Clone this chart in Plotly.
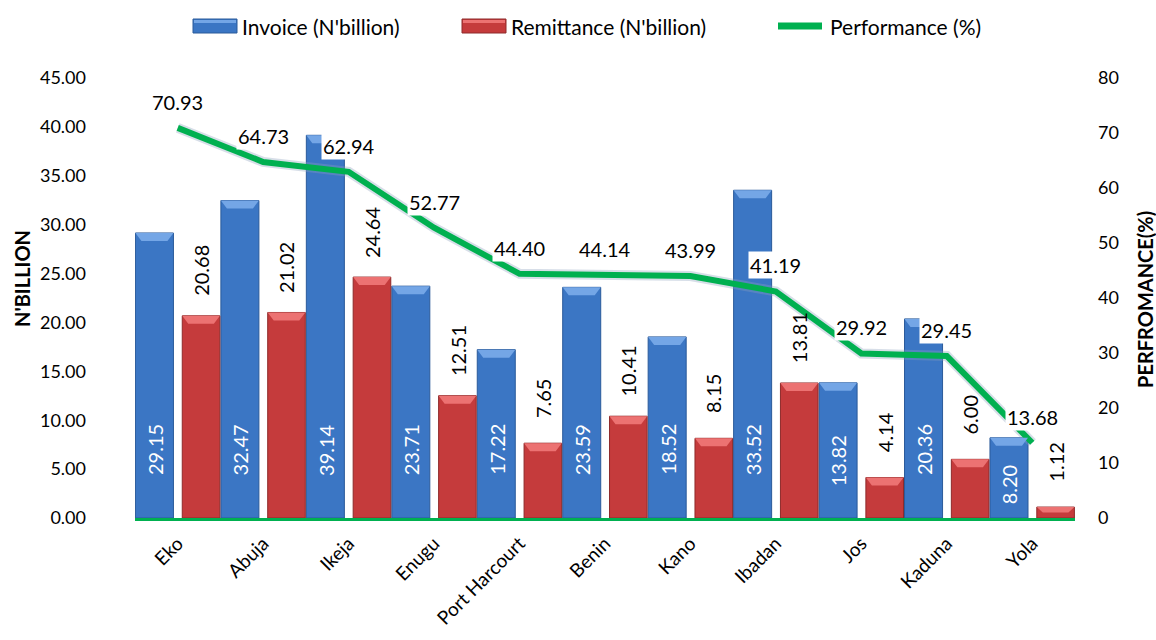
import plotly.graph_objects as go

# Revenue offices and their figures
offices = ["Eko", "Abuja", "Ikeja", "Enugu", "Port Harcourt", "Benin",
           "Kano", "Ibadan", "Jos", "Kaduna", "Yola"]
invoice = [29.15, 32.47, 39.14, 23.71, 17.22, 23.59, 18.52, 33.52, 13.82, 20.36, 8.20]
remittance = [20.68, 21.02, 24.64, 12.51, 7.65, 10.41, 8.15, 13.81, 4.14, 6.00, 1.12]
performance = [70.93, 64.73, 62.94, 52.77, 44.40, 44.14, 43.99, 41.19, 29.92, 29.45, 13.68]

series_names = ["Invoice (N'billion)", "Remittance (N'billion)", "Performance (%)"]

FONT = "Lato"
BLUE, BLUE_EDGE, BLUE_CAP = "#3B76C4", "#2A5A9A", "#74A6E6"
RED, RED_EDGE, RED_CAP = "#C53B3C", "#8E2A2A", "#EC7272"
GREEN = "#00B050"

W, H = 1156, 640
ML, MR, MT, MB = 135, 81, 78, 122
PW, PH = W - ML - MR, H - MT - MB
Y_MAX, Y2_MAX = 45, 80
PX_PER_UNIT = PH / Y_MAX


def px_x(v):
    return (v - ML) / PW


def px_y(v):
    return 1 - (v - MT) / PH


INV_OFF, INV_W = -0.495, 0.445
REM_OFF, REM_W = 0.053, 0.44

fig = go.Figure()

fig.add_trace(go.Bar(
    x=offices, y=invoice, name=series_names[0],
    offset=INV_OFF, width=INV_W, showlegend=False,
    marker=dict(color=BLUE, line=dict(color=BLUE_EDGE, width=1)),
))
fig.add_trace(go.Bar(
    x=offices, y=remittance, name=series_names[1],
    offset=REM_OFF, width=REM_W, showlegend=False,
    marker=dict(color=RED, line=dict(color=RED_EDGE, width=1)),
))

# soft halo under the performance line, then the line itself
fig.add_trace(go.Scatter(
    x=offices, y=performance, yaxis="y2", mode="lines", showlegend=False,
    hoverinfo="skip", line=dict(color="rgba(140,160,190,0.35)", width=10),
))
fig.add_trace(go.Scatter(
    x=offices, y=performance, name=series_names[2], yaxis="y2",
    mode="lines", showlegend=False, line=dict(color=GREEN, width=6),
))

shapes = []
annotations = []

# bevelled caps on top of each bar
cap_h = 8 / PX_PER_UNIT
inset = 6 / (PW / len(offices))
for i, (inv, rem) in enumerate(zip(invoice, remittance)):
    for val, off, w, cap in ((inv, INV_OFF, INV_W, BLUE_CAP), (rem, REM_OFF, REM_W, RED_CAP)):
        x0, x1 = i + off, i + off + w
        h = min(cap_h, val * 0.5)
        path = (f"M {x0},{val} L {x1},{val} L {x1 - inset},{val - h} "
                f"L {x0 + inset},{val - h} Z")
        shapes.append(dict(type="path", path=path, xref="x", yref="y",
                           fillcolor=cap, line=dict(width=0), layer="above"))

# invoice values written inside the blue bars
for name, v in zip(offices, invoice):
    centre = min(7.0, 0.42 * v)
    annotations.append(dict(
        x=name, y=centre, xref="x", yref="y", text=f"{v:.2f}",
        xshift=(INV_OFF + INV_W / 2) * PW / len(offices),
        textangle=-90, showarrow=False, xanchor="center", yanchor="middle",
        font=dict(family=FONT, size=20, color="white"),
    ))

# remittance values above the red bars
for name, v in zip(offices, remittance):
    annotations.append(dict(
        x=name, y=v, xref="x", yref="y", text=f"{v:.2f}",
        xshift=(REM_OFF + REM_W / 2) * PW / len(offices), yshift=45,
        textangle=-90, showarrow=False, xanchor="center", yanchor="middle",
        font=dict(family=FONT, size=20, color="black"),
    ))

# performance values on white boxes above the line
for name, p in zip(offices, performance):
    annotations.append(dict(
        x=name, y=p, xref="x", yref="y2", text=f"{p:.2f}",
        showarrow=False, yshift=26, bgcolor="white", borderpad=1,
        font=dict(family=FONT, size=20, color="black"),
    ))

# axis titles
annotations.append(dict(
    x=px_x(22), y=px_y(279), xref="paper", yref="paper", text="<b>N'BILLION</b>",
    textangle=-90, showarrow=False, xanchor="center", yanchor="middle",
    font=dict(family=FONT, size=20, color="black"),
))
annotations.append(dict(
    x=px_x(1145), y=px_y(300), xref="paper", yref="paper",
    text="<b>PERFROMANCE(%)</b>",
    textangle=-90, showarrow=False, xanchor="center", yanchor="middle",
    font=dict(family=FONT, size=20, color="black"),
))

# legend row
LEG_Y = 26
legend_items = [
    ("bar", 193, BLUE, BLUE_EDGE, BLUE_CAP),
    ("bar", 462, RED, RED_EDGE, RED_CAP),
    ("line", 775, GREEN, GREEN, GREEN),
]
for (kind, x0, col, edge, cap), label in zip(legend_items, series_names):
    if kind == "bar":
        shapes.append(dict(
            type="rect", xref="paper", yref="paper",
            x0=px_x(x0), x1=px_x(x0 + 44), y0=px_y(LEG_Y + 7), y1=px_y(LEG_Y - 7),
            fillcolor=col, line=dict(color=edge, width=1),
        ))
        shapes.append(dict(
            type="rect", xref="paper", yref="paper",
            x0=px_x(x0 + 1), x1=px_x(x0 + 43), y0=px_y(LEG_Y - 3), y1=px_y(LEG_Y - 6),
            fillcolor=cap, line=dict(width=0),
        ))
        tx = x0 + 47
    else:
        shapes.append(dict(
            type="line", xref="paper", yref="paper",
            x0=px_x(x0 + 3), x1=px_x(x0 + 47), y0=px_y(LEG_Y), y1=px_y(LEG_Y),
            line=dict(color=col, width=7),
        ))
        tx = x0 + 53
    annotations.append(dict(
        x=px_x(tx), y=px_y(LEG_Y), xref="paper", yref="paper", text=label,
        showarrow=False, xanchor="left", yanchor="middle",
        font=dict(family=FONT, size=21, color="black"),
    ))

fig.update_layout(
    width=W, height=H,
    margin=dict(l=ML, r=MR, t=MT, b=MB, autoexpand=False),
    paper_bgcolor="white", plot_bgcolor="white",
    font=dict(family=FONT, size=18, color="black"),
    barmode="group", showlegend=False,
    shapes=shapes, annotations=annotations,
    xaxis=dict(
        showgrid=False, showline=True, linecolor=GREEN, linewidth=3,
        ticks="", tickangle=-45, ticklabelstandoff=4, automargin=False,
        tickfont=dict(family=FONT, size=19),
    ),
    yaxis=dict(
        range=[0, Y_MAX], dtick=5, tickformat=".2f", showgrid=False,
        zeroline=False, showline=False, ticks="", automargin=False,
        ticklabelstandoff=48, tickfont=dict(family=FONT, size=18),
    ),
    yaxis2=dict(
        range=[0, Y2_MAX], dtick=10, overlaying="y", side="right",
        showgrid=False, zeroline=False, showline=False, ticks="", automargin=False,
        ticklabelstandoff=22, tickfont=dict(family=FONT, size=18),
    ),
)

fig.write_html("out.html")
